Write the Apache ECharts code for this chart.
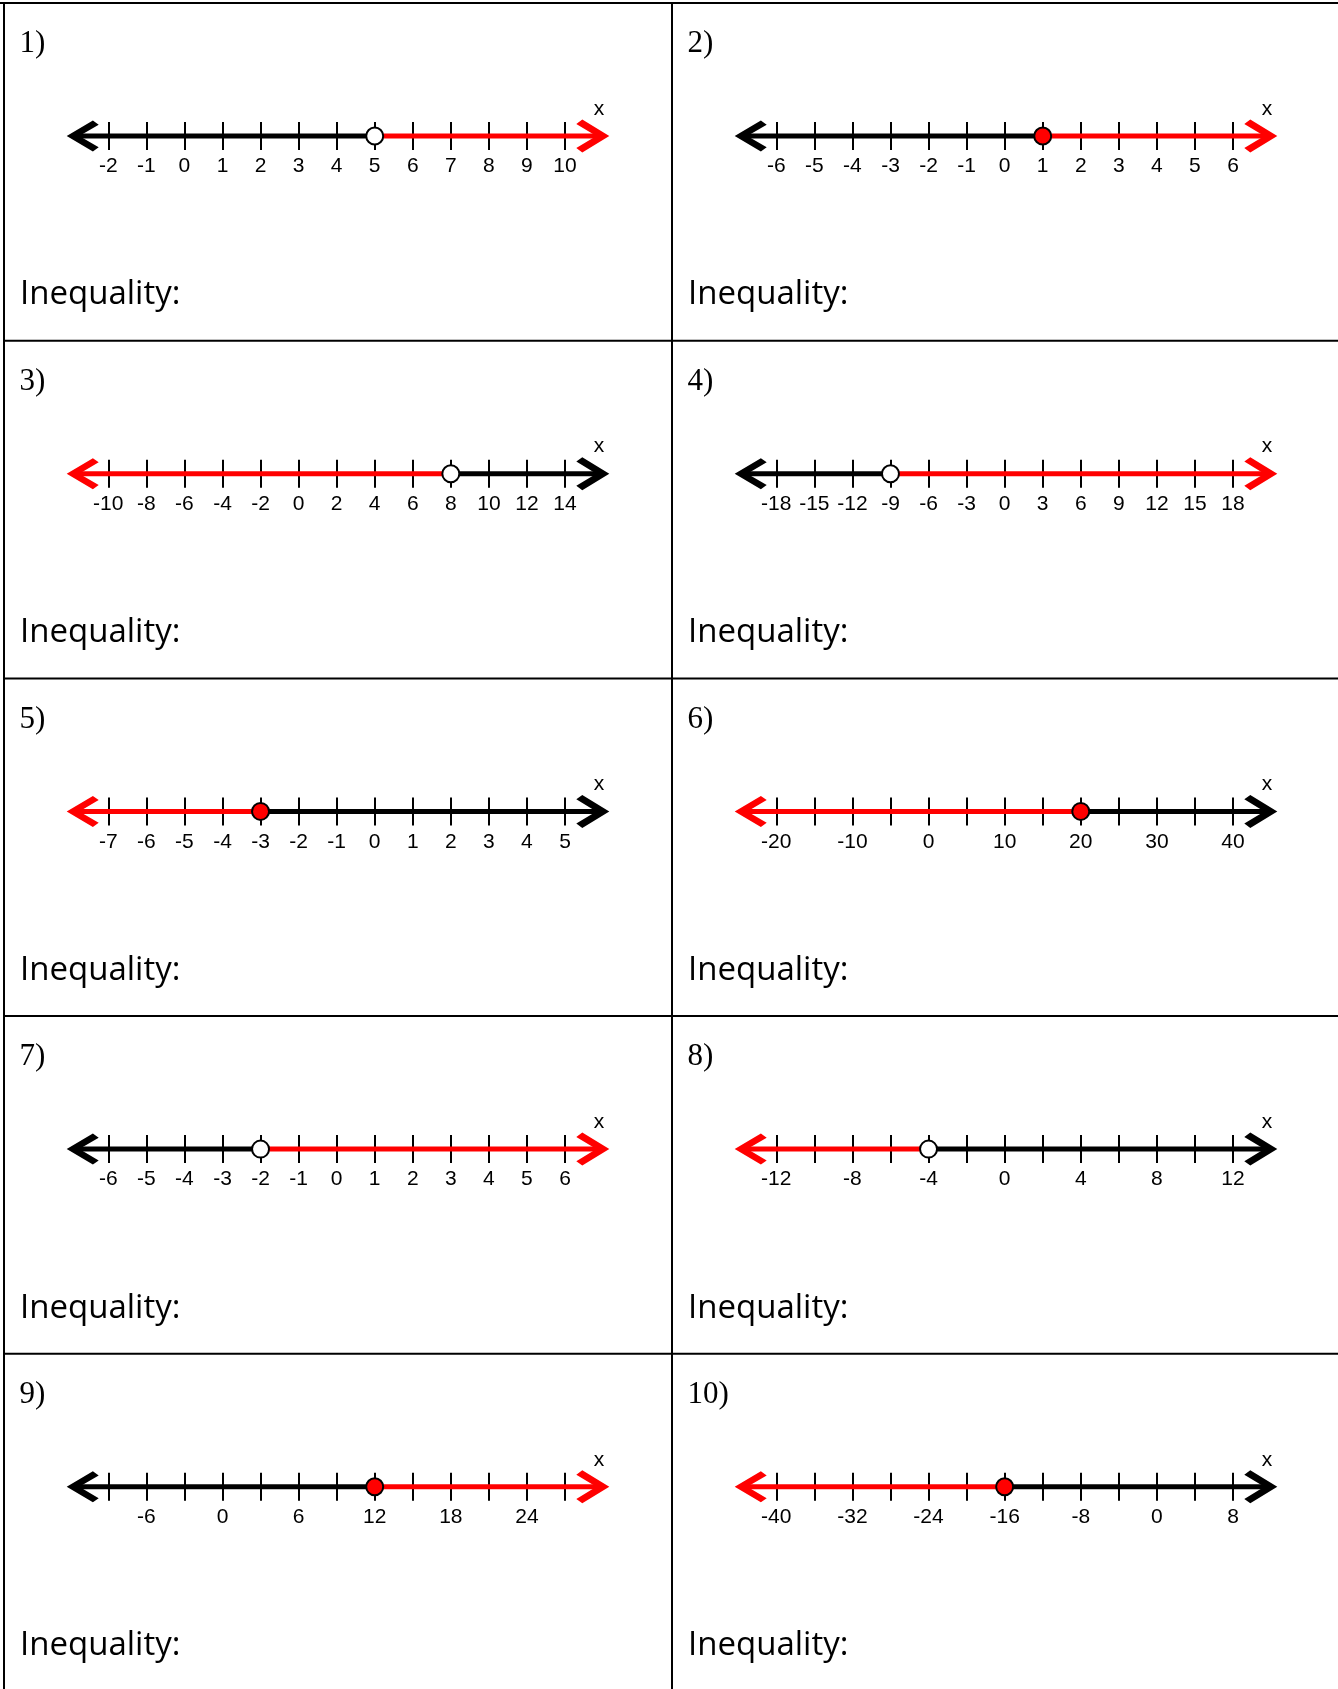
<!DOCTYPE html>
<html>
<head>
<meta charset="utf-8">
<script src="https://cdn.jsdelivr.net/npm/echarts@6/dist/echarts.min.js"></script>
<style>
  html, body { margin: 0; padding: 0; background: #fff; }
  #chart { width: 1338px; height: 1689px; }
</style>
</head>
<body>
<div id="chart"></div>
<script>
// ---- data ----
const panelNums  = ['1)', '2)', '3)', '4)', '5)', '6)', '7)', '8)', '9)', '10)'];
const axisMin    = [-2, -6, -10, -18, -7, -20, -6, -12, -9, -40];
const axisMax    = [10, 6, 14, 18, 5, 40, 6, 12, 27, 8];
const tickStep   = [1, 1, 2, 3, 1, 5, 1, 2, 3, 4];
const labelStep  = [1, 1, 2, 3, 1, 10, 1, 4, 6, 8];
const pointVal   = [5, 1, 8, -9, -3, 20, -2, -4, 12, -16];
const closedDot  = [false, true, false, false, true, true, false, false, true, true];
const shadeSide  = ['right', 'right', 'left', 'right', 'left', 'left', 'right', 'left', 'right', 'left'];
const axisName   = 'x';
const promptText = 'Inequality:';

// ---- layout / style ----
const RED = '#FF0000', BLACK = '#000000';
const ROW_TOP0 = 3, ROW_H = 337.7;
const COL_X = [3, 671];
const TICK_L = 105.3, TICK_R = 562;      // first / last tick, relative to column
const TIP_L = 63.7, TIP_R = 606.3;       // arrow tips, relative to column
const LINE_Y = 133, TICK_HALF = 14;
const NOTCH_PX = 11;

const arrowLeftPath  = 'path://M0,15 L27,0 L33,4 L13,15 L33,26 L27,30 Z';
const arrowRightPath = 'path://M33,15 L6,0 L0,4 L20,15 L0,26 L6,30 Z';

const grids = [], xAxes = [], yAxes = [], series = [], graphics = [];

panelNums.forEach((num, i) => {
  const row = Math.floor(i / 2), col = i % 2;
  const rowTop = ROW_TOP0 + row * ROW_H;
  const colX = COL_X[col];
  const step = tickStep[i];
  const ticks = [];
  for (let v = axisMin[i]; v <= axisMax[i] + 1e-9; v += step) ticks.push(v);
  const labels = ticks.filter(v => Math.abs(v % labelStep[i]) < 1e-9);
  const pxPerUnit = (TICK_R - TICK_L) / (axisMax[i] - axisMin[i]);
  const tipL = axisMin[i] - (TICK_L - TIP_L) / pxPerUnit;
  const tipR = axisMax[i] + (TIP_R - TICK_R) / pxPerUnit;
  const notch = NOTCH_PX / pxPerUnit;

  grids.push({
    left: colX + TIP_L,
    width: TIP_R - TIP_L,
    top: rowTop + LINE_Y - TICK_HALF,
    height: TICK_HALF * 2
  });
  xAxes.push({
    gridIndex: i,
    type: 'value',
    min: tipL,
    max: tipR,
    position: 'bottom',
    axisLine: { show: false, onZero: false },
    axisTick: {
      show: true, inside: true, length: TICK_HALF * 2, customValues: ticks,
      lineStyle: { color: BLACK, width: 2 }
    },
    splitLine: { show: false },
    axisLabel: {
      show: true, customValues: labels, margin: 6, hideOverlap: false,
      fontFamily: 'Liberation Sans', fontSize: 21, color: BLACK
    }
  });
  yAxes.push({ gridIndex: i, type: 'value', min: -1, max: 1, show: false, splitLine: { show: false } });

  const p = pointVal[i];
  const leftColor = shadeSide[i] === 'left' ? RED : BLACK;
  const rightColor = shadeSide[i] === 'right' ? RED : BLACK;

  series.push({
    type: 'line', xAxisIndex: i, yAxisIndex: i, clip: false, silent: true,
    showSymbol: false, symbol: 'none', z: 3,
    lineStyle: { color: leftColor, width: 5, cap: 'butt' },
    data: [[tipL + notch, 0], [p, 0]]
  });
  series.push({
    type: 'line', xAxisIndex: i, yAxisIndex: i, clip: false, silent: true,
    showSymbol: false, symbol: 'none', z: 3,
    lineStyle: { color: rightColor, width: 5, cap: 'butt' },
    data: [[p, 0], [tipR - notch, 0]]
  });
  series.push({
    type: 'scatter', xAxisIndex: i, yAxisIndex: i, clip: false, silent: true, z: 4,
    symbol: arrowLeftPath, symbolSize: [32, 31], symbolOffset: [16, 0],
    itemStyle: { color: leftColor, opacity: 1 },
    data: [[tipL, 0]]
  });
  series.push({
    type: 'scatter', xAxisIndex: i, yAxisIndex: i, clip: false, silent: true, z: 4,
    symbol: arrowRightPath, symbolSize: [33, 33], symbolOffset: [-16.5, 0],
    itemStyle: { color: rightColor, opacity: 1 },
    data: [[tipR, 0]]
  });
  series.push({
    type: 'scatter', xAxisIndex: i, yAxisIndex: i, clip: false, silent: true, z: 5,
    symbol: 'circle', symbolSize: 17,
    itemStyle: { color: closedDot[i] ? RED : '#FFFFFF', borderColor: BLACK, borderWidth: 2, opacity: 1 },
    data: [[p, 0]]
  });

  graphics.push({
    type: 'text', silent: true, z: 10,
    style: { text: num, x: colX + 16.5, y: rowTop + 41, font: '31px "Liberation Serif"', fill: BLACK, verticalAlign: 'middle', align: 'left' }
  });
  graphics.push({
    type: 'text', silent: true, z: 10,
    style: { text: axisName, x: colX + 596, y: rowTop + 106, font: '21px "Liberation Sans"', fill: BLACK, verticalAlign: 'middle', align: 'center' }
  });
  graphics.push({
    type: 'text', silent: true, z: 10,
    style: { text: promptText, x: colX + 17, y: rowTop + 292, font: '33px "Open Sans"', fill: BLACK, verticalAlign: 'middle', align: 'left' }
  });
});

// frame lines
const W = 1338, H = 1689;
graphics.push({ type: 'line', silent: true, shape: { x1: 0, y1: ROW_TOP0, x2: W, y2: ROW_TOP0 }, style: { stroke: BLACK, lineWidth: 2 } });
for (let r = 1; r <= 5; r++) {
  const y = ROW_TOP0 + r * ROW_H;
  graphics.push({ type: 'line', silent: true, shape: { x1: 3, y1: y, x2: W, y2: y }, style: { stroke: BLACK, lineWidth: 2 } });
}
graphics.push({ type: 'line', silent: true, shape: { x1: 4, y1: 2, x2: 4, y2: H }, style: { stroke: BLACK, lineWidth: 2 } });
graphics.push({ type: 'line', silent: true, shape: { x1: 672, y1: 2, x2: 672, y2: H }, style: { stroke: BLACK, lineWidth: 2 } });

const chart = echarts.init(document.getElementById('chart'), null, { renderer: 'canvas' });
chart.setOption({
  animation: false,
  backgroundColor: '#FFFFFF',
  grid: grids,
  xAxis: xAxes,
  yAxis: yAxes,
  series: series,
  graphic: { elements: graphics }
});
</script>
</body>
</html>
